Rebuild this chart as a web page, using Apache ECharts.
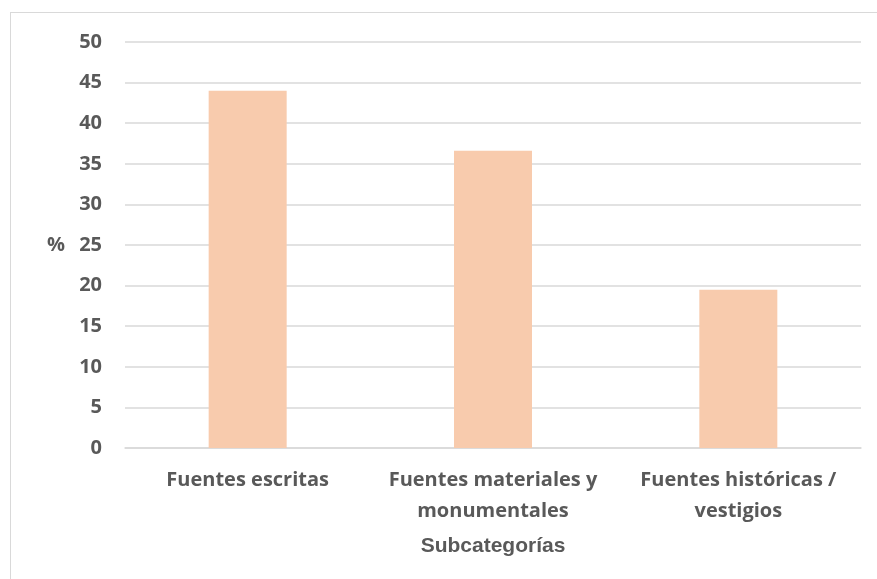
<!DOCTYPE html>
<html>
<head>
<meta charset="utf-8">
<style>
    html, body { margin: 0; padding: 0; background: #fff; }
    #frame { position: absolute; left: 10px; top: 12px; width: 900px; height: 600px; border: 1px solid #d9d9d9; box-sizing: border-box; }
    #main { position: absolute; left: 0; top: 0; width: 877px; height: 579px; }
</style>
</head>
<body>
<div id="frame"></div>
<div id="main"></div>
<script src="https://cdn.jsdelivr.net/npm/echarts@6/dist/echarts.min.js"></script>
<script>
    // datos
    var categorias = ['Fuentes escritas', 'Fuentes materiales y\nmonumentales', 'Fuentes históricas /\nvestigios'];
    var porcentajes = [44, 36.6, 19.5];
    var yMin = 0, yMax = 50, yPaso = 5;

    var chart = echarts.init(document.getElementById('main'));
    var gris = '#595959';

    var option = {
        animation: false,
        grid: { left: 125, right: 16, top: 42, bottom: 131 },
        xAxis: {
            type: 'category',
            data: categorias,
            axisLine: { lineStyle: { color: '#d9d9d9', width: 1.5 } },
            axisTick: { show: false },
            axisLabel: {
                interval: 0,
                color: gris,
                fontFamily: 'Open Sans',
                fontWeight: 'bold',
                fontSize: 20,
                lineHeight: 31,
                margin: 17
            },
            name: 'Subcategorías',
            nameLocation: 'middle',
            nameGap: 88,
            nameTextStyle: { color: gris, fontFamily: 'Liberation Sans', fontWeight: 'bold', fontSize: 21 }
        },
        yAxis: {
            type: 'value',
            min: yMin,
            max: yMax,
            interval: yPaso,
            axisLine: { show: false },
            axisTick: { show: false },
            splitLine: { lineStyle: { color: '#d9d9d9', width: 1.5 } },
            axisLabel: {
                color: gris,
                fontFamily: 'Open Sans',
                fontWeight: 'bold',
                fontSize: 20,
                margin: 23
            },
            name: '%',
            nameLocation: 'middle',
            nameRotate: 0,
            nameGap: 60,
            nameTextStyle: { color: gris, fontFamily: 'Open Sans', fontWeight: 'bold', fontSize: 20 }
        },
        series: [{
            type: 'bar',
            data: porcentajes,
            barWidth: 78,
            itemStyle: { color: '#F8CBAD' }
        }]
    };
    chart.setOption(option);
</script>
</body>
</html>
